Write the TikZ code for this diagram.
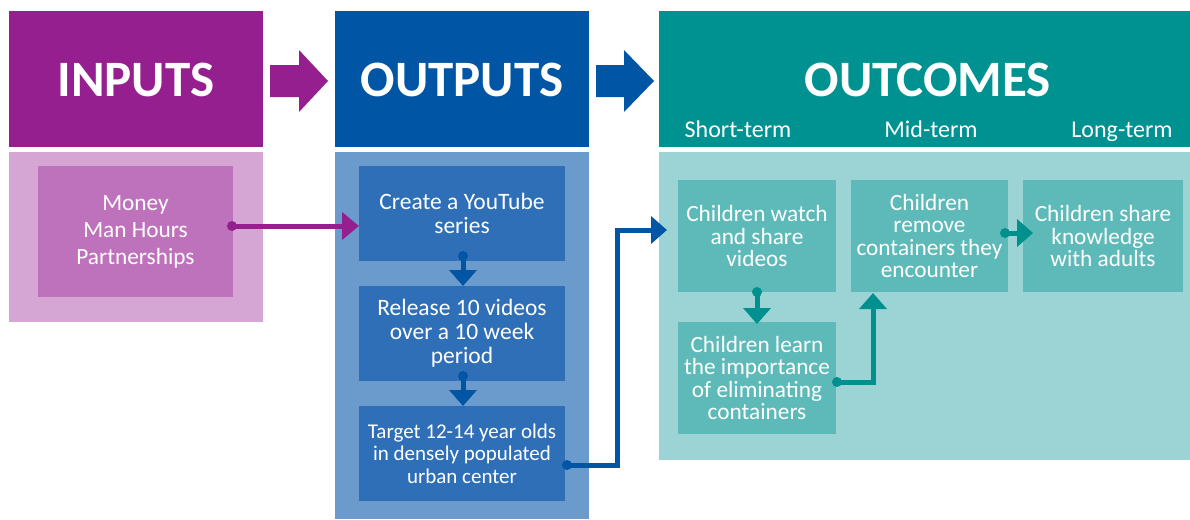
\documentclass[tikz,border=0pt]{standalone}
\usepackage{fontspec}
\setmainfont{Carlito}
\usetikzlibrary{arrows.meta,calc}
\definecolor{purpH}{HTML}{951F8F}
\definecolor{purpB}{HTML}{D5A6D3}
\definecolor{purpI}{HTML}{BE72BC}
\definecolor{blueH}{HTML}{0055A5}
\definecolor{blueB}{HTML}{6A9BCC}
\definecolor{blueI}{HTML}{2E6FB7}
\definecolor{tealH}{HTML}{009290}
\definecolor{tealB}{HTML}{9CD4D6}
\definecolor{tealI}{HTML}{5DBAB8}
\definecolor{tealA}{HTML}{00918E}
\tikzset{
  blk/.style={inner sep=0pt, outer sep=0pt, anchor=center, align=center, text=white},
  title/.style={font=\fontsize{51}{56}\selectfont\bfseries, text=white, inner sep=0pt},
  termlbl/.style={font=\fontsize{24}{26}\selectfont, text=white, inner sep=0pt, anchor=base},
  intext/.style={font=\fontsize{23.3}{27}\selectfont},
  outtext/.style={font=\fontsize{23.5}{24}\selectfont},
  outsmall/.style={font=\fontsize{21}{22.5}\selectfont},
  octext/.style={font=\fontsize{23.3}{22.6}\selectfont},
  conn/.style={line width=5pt},
  tip/.style={-{Triangle[length=16pt,width=27pt]}},
}
\begin{document}
\begin{tikzpicture}[x=1pt,y=-1pt]
\useasboundingbox (0,0) rectangle (1190,519);

% INPUTS
\node[blk, fill=purpH, minimum width=254pt, minimum height=136pt] (inh) at (136,79) {};
\node[title] (intitle) at (136,80) {INPUTS};
\node[blk, fill=purpB, minimum width=254pt, minimum height=170pt] (inb) at (136,237) {};
\node[blk, fill=purpI, minimum width=195pt, minimum height=131pt, intext] (inbox) at (135.5,231.5) {Money\\Man Hours\\Partnerships};

% OUTPUTS
\node[blk, fill=blueH, minimum width=254pt, minimum height=136pt] (outh) at (462,79) {};
\node[title] (outtitle) at (462,80) {OUTPUTS};
\node[blk, fill=blueB, minimum width=254pt, minimum height=367pt] (outb) at (462,335.5) {};
\node[blk, fill=blueI, minimum width=206pt, minimum height=95pt, outtext] (ob1) at (462,213.5) {Create a YouTube\\series};
\node[blk, fill=blueI, minimum width=206pt, minimum height=95pt, outtext] (ob2) at (462,333.5) {Release 10 videos\\over a 10 week\\period};
\node[blk, fill=blueI, minimum width=206pt, minimum height=95pt, outsmall] (ob3) at (462,453.5) {Target 12-14 year olds\\in densely populated\\urban center};

% OUTCOMES
\node[blk, fill=tealH, minimum width=531pt, minimum height=136pt] (och) at (924.5,79) {};
\node[title] (octitle) at (928,80) {OUTCOMES};
\node[termlbl] (st) at (738,137) {Short-term};
\node[termlbl] (mt) at (931,137) {Mid-term};
\node[termlbl] (lt) at (1122,137) {Long-term};
\node[blk, fill=tealB, minimum width=531pt, minimum height=308pt] (ocb) at (924.5,306) {};
\node[blk, fill=tealI, minimum width=158pt, minimum height=112pt, octext] (oa) at (757,236) {Children watch\\and share\\videos};
\node[blk, fill=tealI, minimum width=158pt, minimum height=112pt, octext] (obb) at (757,378) {Children learn\\the importance\\of eliminating\\containers};
\node[blk, fill=tealI, minimum width=157pt, minimum height=112pt, octext] (oc) at (929.5,236) {Children\\remove\\containers they\\encounter};
\node[blk, fill=tealI, minimum width=160pt, minimum height=112pt, octext] (od) at (1103,236) {Children share\\knowledge\\with adults};

% big block arrows
\fill[purpH] (270,65) -- (299,65) -- (299,50) -- (328,81) -- (299,112) -- (299,97) -- (270,97) -- cycle;
\fill[blueH] (596,65) -- (624,65) -- (624,50) -- (654,81) -- (624,112) -- (624,97) -- (596,97) -- cycle;

% connectors
\coordinate (pstart) at ($(inbox.east)+(-1,-5.5)$);
\draw[conn, purpH, -{Triangle[length=17pt,width=27pt]}] (pstart) -- (pstart -| ob1.west);
\fill[purpH] (pstart) circle (5pt);

\coordinate (o1s) at ($(ob1.south)+(1,-5)$);
\draw[conn, blueH, tip] (o1s) -- (o1s |- ob2.north);
\fill[blueH] (o1s) circle (5pt);
\coordinate (o2s) at ($(ob2.south)+(1,-5)$);
\draw[conn, blueH, tip] (o2s) -- (o2s |- ob3.north);
\fill[blueH] (o2s) circle (5pt);

\coordinate (bstart) at ($(ob3.east)+(2,11.5)$);
\coordinate (btip) at (667,230);
\draw[conn, blueH, tip] (bstart) -| (617,230) -- (btip);
\fill[blueH] (bstart) circle (5pt);

\coordinate (as) at (oa.south);
\draw[conn, tealA, tip] (as) -- ($(obb.north)+(0,2)$);
\fill[tealA] (as) circle (5pt);

\coordinate (bs) at ($(obb.east)+(1,4)$);
\coordinate (cb) at ($(oc.south west)+(22,1)$);
\draw[conn, tealA, tip] (bs) -| (cb);
\fill[tealA] (bs) circle (5pt);

\coordinate (cs) at ($(oc.east)+(-3,-3)$);
\draw[conn, tealA, -{Triangle[length=16pt,width=27pt]}] (cs) -- ($(od.west |- cs)+(10,0)$);
\fill[tealA] (cs) circle (5pt);
\end{tikzpicture}
\end{document}
